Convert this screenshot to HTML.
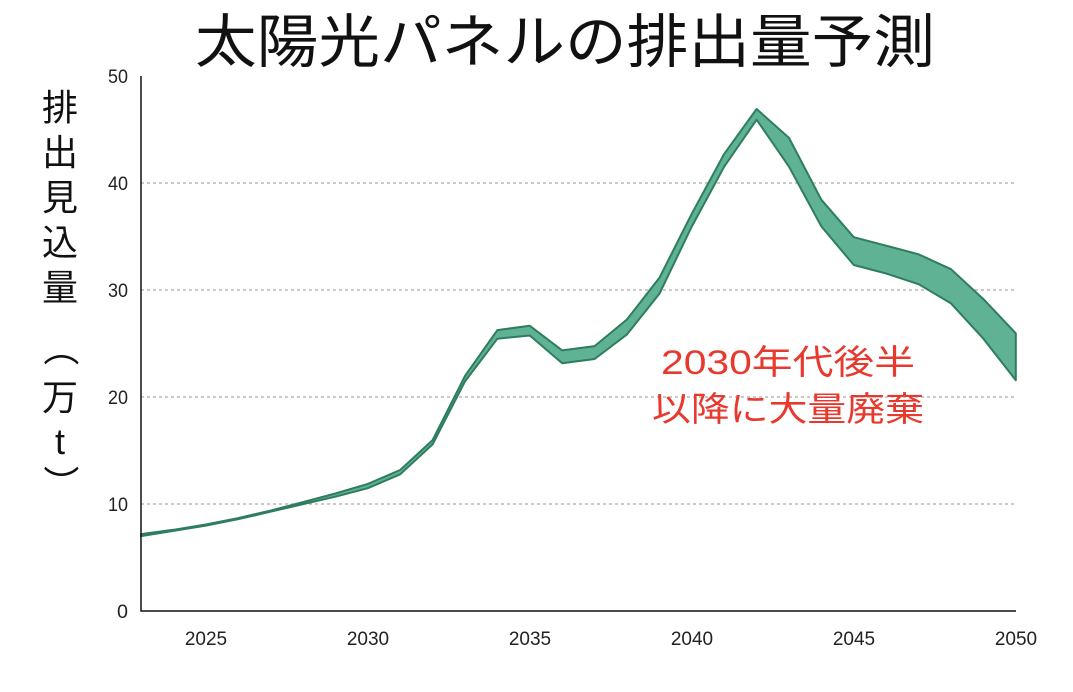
<!DOCTYPE html>
<html><head><meta charset="utf-8"><style>
html,body{margin:0;padding:0;background:#fff;}
svg text{font-family:"Liberation Sans","Noto Sans CJK JP",sans-serif;}
</style></head><body>
<svg width="1073" height="687" viewBox="0 0 1073 687" xmlns="http://www.w3.org/2000/svg">
<rect width="1073" height="687" fill="#fff"/>
<text x="565" y="62" font-size="58" text-anchor="middle" fill="#111" textLength="740" lengthAdjust="spacingAndGlyphs">太陽光パネルの排出量予測</text>
<g stroke="#aaa" stroke-width="1.2" stroke-dasharray="3,3">
<line x1="141" y1="504" x2="1016" y2="504"/>
<line x1="141" y1="397" x2="1016" y2="397"/>
<line x1="141" y1="290" x2="1016" y2="290"/>
<line x1="141" y1="183" x2="1016" y2="183"/>
</g>
<polygon fill="#5fb394" stroke="#2e7d5e" stroke-width="2" stroke-linejoin="round" points="
141,534.1 173.4,529.8 205.8,524.5 238.2,518.1 270.6,510.6 303,502.1 335.4,493.5 367.8,483.9 400.2,470 432.6,440.1 465,376 497.4,330.1 529.8,325.8 562.2,350.4 594.6,346.1 627,319.4 659.4,277.8 691.8,213.7 724.2,153.9 756.6,109 789,137.9 821.4,199.8 853.8,237.2 886.2,245.7 918.6,254.3 951,269.2 983.4,299.1 1015.8,333.3
1015.8,380.3 983.4,338.7 951,303.4 918.6,284.2 886.2,273.5 853.8,265 821.4,226.5 789,166.7 756.6,119.7 724.2,166.7 691.8,226.5 659.4,293.8 627,334.4 594.6,359 562.2,363.2 529.8,335.5 497.4,338.7 465,381.4 432.6,444.4 400.2,474.3 367.8,488.2 335.4,496.7 303,504.2 270.6,511.7 238.2,519.2 205.8,525.6 173.4,530.9 141,536.2"/>
<path d="M141,76 V611 H1016" fill="none" stroke="#111" stroke-width="1.5"/>
<g font-size="19" fill="#222" text-anchor="end">
<text x="128" y="618" textLength="11" lengthAdjust="spacingAndGlyphs">0</text><text x="128" y="511" textLength="20" lengthAdjust="spacingAndGlyphs">10</text><text x="128" y="404" textLength="20" lengthAdjust="spacingAndGlyphs">20</text><text x="128" y="297" textLength="20" lengthAdjust="spacingAndGlyphs">30</text><text x="128" y="190" textLength="20" lengthAdjust="spacingAndGlyphs">40</text><text x="128" y="83" textLength="20" lengthAdjust="spacingAndGlyphs">50</text>
</g>
<g font-size="19" fill="#222" text-anchor="middle">
<text x="206" y="645">2025</text><text x="368" y="645">2030</text><text x="530" y="645">2035</text><text x="692" y="645">2040</text><text x="854" y="645">2045</text><text x="1016" y="645">2050</text>
</g>
<g font-size="36" fill="#111" text-anchor="middle">
<text x="60" y="120">排</text><text x="60" y="165">出</text><text x="60" y="210">見</text><text x="60" y="255">込</text><text x="60" y="300">量</text>
<text x="60" y="360" transform="rotate(90 60 348)">（</text>
<text x="60" y="410">万</text><text x="60" y="454">t</text>
<text x="60" y="495" transform="rotate(90 60 483)">）</text>
</g>
<g font-size="34" fill="#e8392f" text-anchor="middle">
<text x="788" y="374" textLength="254" lengthAdjust="spacingAndGlyphs">2030年代後半</text>
<text x="788" y="421" textLength="272" lengthAdjust="spacingAndGlyphs">以降に大量廃棄</text>
</g>
</svg>
</body></html>
